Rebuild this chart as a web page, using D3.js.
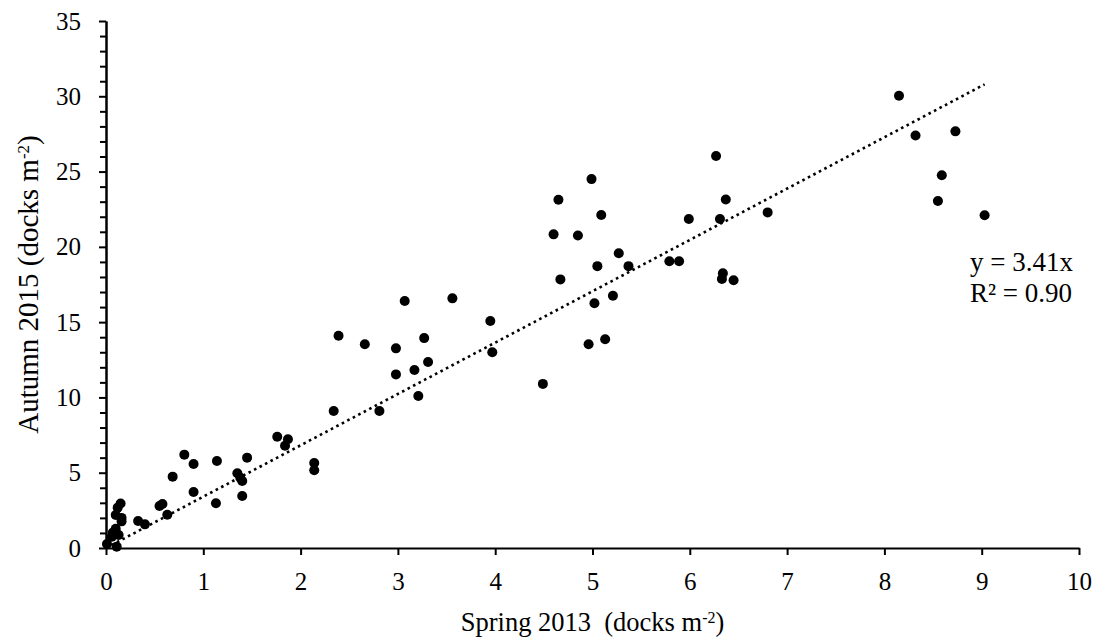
<!DOCTYPE html>
<html>
<head>
<meta charset="utf-8">
<script src="https://cdn.jsdelivr.net/npm/d3@7"></script>
<style>
  body { margin: 0; background: #fff; }
  svg { display: block; }
  text { font-family: "Liberation Serif", "Times New Roman", serif; fill: #000; }
</style>
</head>
<body>
<svg id="chart" width="1101" height="642"></svg>
<script>
// Spring 2013 density (x) and Autumn 2015 density (y)
var springX = [
    0.01, 0.11, 0.06, 0.13, 0.07, 0.10, 0.10, 0.16, 0.16, 0.12, 0.15,
    0.33, 0.40, 0.55, 0.58, 0.63, 0.685, 0.805, 0.90, 0.90, 1.13, 1.14, 1.35, 1.38, 1.40, 1.40, 1.45,
    1.76, 1.87, 1.84, 2.14, 2.14, 2.34, 2.81, 2.39, 2.66, 2.98, 3.27, 2.98, 3.17, 3.31, 3.21, 3.07, 3.56, 3.95, 3.97, 4.49,
    4.99, 4.65, 5.09, 4.60, 4.85, 5.27, 5.05, 5.37, 4.67, 5.21, 5.02, 5.13, 4.96,
    5.79, 5.89, 5.99, 6.27, 6.37, 6.31, 6.80, 6.34, 6.33, 6.45,
    8.15, 8.32, 8.73, 8.59, 8.55, 9.03
];
var autumnY = [
    0.27, 0.09, 0.75, 0.86, 1.02, 1.28, 2.19, 2.00, 1.77, 2.68, 2.95,
    1.79, 1.57, 2.79, 2.92, 2.21, 4.74, 6.20, 5.58, 3.72, 2.97, 5.78, 4.96, 4.67, 4.45, 3.45, 6.00,
    7.39, 7.22, 6.79, 5.64, 5.16, 9.10, 9.10, 14.10, 13.53, 13.26, 13.94, 11.53, 11.82, 12.35, 10.09, 16.40, 16.58, 15.07, 13.00, 10.90,
    24.50, 23.13, 22.11, 20.83, 20.76, 19.57, 18.72, 18.72, 17.84, 16.75, 16.25, 13.86, 13.53,
    19.04, 19.04, 21.85, 26.03, 23.15, 21.85, 22.29, 18.24, 17.86, 17.78,
    30.03, 27.40, 27.67, 24.75, 23.04, 22.10
];
var xTicks = [0, 1, 2, 3, 4, 5, 6, 7, 8, 9, 10];
var yTicks = [0, 5, 10, 15, 20, 25, 30, 35];
var yMinorTicks = d3.range(0, 36).filter(function (v) { return v % 5 !== 0; });
var slope = 3.41;
var rSquared = 0.90;

var svg = d3.select("#chart");
var padding = { t: 21, r: 22, b: 94, l: 106 };
var chartWidth = 1101 - padding.l - padding.r;
var chartHeight = 642 - padding.t - padding.b;

var points = springX.map(function (x, i) { return { x: x, y: autumnY[i] }; });

// scales
var xScale = d3.scaleLinear().domain([0, 10]).range([0, chartWidth]);
var yScale = d3.scaleLinear().domain([0, 35]).range([chartHeight, 0]);

var g = svg.append("g")
    .attr("transform", "translate(" + padding.l + "," + padding.t + ")");

/******************************************
  Axes
******************************************/
var xAxis = d3.axisBottom(xScale)
    .tickValues(xTicks)
    .tickSize(7)
    .tickSizeOuter(0)
    .tickPadding(17)
    .tickFormat(d3.format("d"));

var yAxis = d3.axisLeft(yScale)
    .tickValues(yTicks)
    .tickSize(7)
    .tickSizeOuter(0)
    .tickPadding(18)
    .tickFormat(d3.format("d"));

var yMinor = d3.axisLeft(yScale)
    .tickValues(yMinorTicks)
    .tickSize(6)
    .tickSizeOuter(0)
    .tickFormat("");

g.append("g")
    .attr("class", "y-minor")
    .call(yMinor);

g.append("g")
    .attr("class", "x-axis")
    .attr("transform", "translate(0," + chartHeight + ")")
    .call(xAxis);

g.append("g")
    .attr("class", "y-axis")
    .call(yAxis);

g.selectAll(".domain, .tick line")
    .attr("stroke", "#000")
    .attr("stroke-width", 2);

g.selectAll(".tick text")
    .style("font-size", "25px");

/******************************************
  Trend line (through origin)
******************************************/
var line = d3.line()
    .x(function (d) { return xScale(d); })
    .y(function (d) { return yScale(d * slope); });

g.append("path")
    .datum([0, d3.max(springX)])
    .attr("d", line)
    .attr("fill", "none")
    .attr("stroke", "#000")
    .attr("stroke-width", 2.6)
    .attr("stroke-dasharray", "2.6,3.6");

/******************************************
  Points
******************************************/
g.selectAll("circle")
    .data(points)
    .enter()
    .append("circle")
    .attr("cx", function (d) { return xScale(d.x); })
    .attr("cy", function (d) { return yScale(d.y); })
    .attr("r", 5)
    .attr("fill", "#000");

/******************************************
  Axis titles and equation
******************************************/
var xTitle = g.append("text")
    .attr("x", chartWidth / 2)
    .attr("y", chartHeight + 83)
    .attr("text-anchor", "middle")
    .style("font-size", "26.5px");
xTitle.append("tspan").text("Spring 2013\u00a0 (docks m");
xTitle.append("tspan").attr("baseline-shift", "super").style("font-size", "16px").text("-2");
xTitle.append("tspan").text(")");

var yTitle = g.append("text")
    .attr("transform", "translate(-68," + chartHeight / 2 + ") rotate(-90)")
    .attr("text-anchor", "middle")
    .style("font-size", "29px");
yTitle.append("tspan").text("Autumn 2015 (docks m");
yTitle.append("tspan").attr("baseline-shift", "super").style("font-size", "17px").text("-2");
yTitle.append("tspan").text(")");

var eq = g.append("text")
    .attr("x", 864)
    .attr("y", 250)
    .style("font-size", "27px");
eq.append("tspan").attr("x", 864).text("y = " + slope.toFixed(2) + "x");
eq.append("tspan").attr("x", 864).attr("dy", 31).text("R\u00b2 = " + rSquared.toFixed(2));
</script>
</body>
</html>
